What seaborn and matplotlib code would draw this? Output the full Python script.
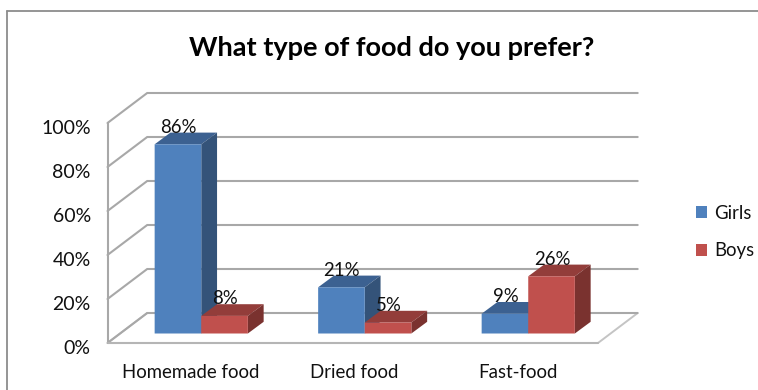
import matplotlib
matplotlib.use("Agg")
import matplotlib.pyplot as plt
import seaborn as sns
import pandas as pd
from matplotlib.lines import Line2D
from matplotlib.patches import Polygon, Rectangle
from matplotlib.ticker import FixedLocator, FuncFormatter
from matplotlib.transforms import ScaledTranslation

categories = ["Homemade food", "Dried food", "Fast-food"]
girls = [86, 21, 9]
boys = [8, 5, 26]
series_names = ["Girls", "Boys"]
palette = {"Girls": "#4F81BD", "Boys": "#C0504D"}
top_shade = {"Girls": "#3C6191", "Boys": "#933D3A"}
side_shade = {"Girls": "#345379", "Boys": "#7A322F"}
y_ticks = [0, 20, 40, 60, 80, 100]
title = "What type of food do you prefer?"

df = pd.DataFrame({
    "category": categories * 2,
    "series": [series_names[0]] * 3 + [series_names[1]] * 3,
    "value": girls + boys,
})

W, H = 758, 390
sns.set_theme(style="white")
plt.rcParams["font.family"] = ["Lato", "DejaVu Sans"]
fig = plt.figure(figsize=(W / 100, H / 100), dpi=100, facecolor="white")

L, R, T, B = 107.5, 598.0, 123.0, 343.0
ax = fig.add_axes([L / W, 1 - B / H, (R - L) / W, (B - T) / H])
ax.patch.set_alpha(0)
sns.barplot(data=df, x="category", y="value", hue="series", palette=palette,
            hue_order=series_names, order=categories, width=0.57, gap=0,
            saturation=1, legend=False, ax=ax, zorder=5, linewidth=0)
ax.set_xlim(-0.5, 2.5)
ax.set_ylim(0, 100)
for s in ax.spines.values():
    s.set_visible(False)

px = 3 / (R - L)          # data units per pixel, x
py = 100 / (B - T)        # data units per pixel, y

# wall and floor depth
wdx, wdy = 39.7 * px, 30 * py
grid = "#A8A8A8"
ax.add_patch(Polygon([(-0.5, 0), (-0.5 + wdx, wdy), (2.5 + wdx, wdy), (2.5, 0)],
                     closed=True, fc="white", ec="#C4C4C4", lw=1.4, zorder=1, clip_on=False))
for t in y_ticks:
    ax.plot([-0.5, -0.5 + wdx, 2.5 + wdx], [t, t + wdy, t + wdy], color=grid, lw=1.5,
            zorder=2 if t else 1.5, clip_on=False, solid_joinstyle="miter")
ax.plot([-0.5, -0.5], [0, 100], color=grid, lw=1.5, zorder=2, clip_on=False)
ax.plot([-0.5, 2.5], [0, 0], color="#B5B5B5", lw=1.5, zorder=2, clip_on=False)

# lift the bars onto the floor and add their 3-D faces
ox, oy = 12 * px, 9.5 * py
bdx, bdy = 15.8 * px, 11.7 * py
for p in ax.patches[:]:
    if not isinstance(p, Rectangle) or p.get_height() == 0:
        continue
    name = series_names[0] if p.get_facecolor()[0] < 0.5 else series_names[1]
    p.set_x(p.get_x() + ox)
    p.set_y(oy)
    p.set_clip_on(False)
    p.set_snap(False)
    x0, x1 = p.get_x(), p.get_x() + p.get_width()
    y0, y1 = oy, oy + p.get_height()
    z = 4 if name == "Girls" else 6
    p.set_zorder(z + 0.2)
    ax.add_patch(Polygon([(x0, y1), (x0 + bdx, y1 + bdy), (x1 + bdx, y1 + bdy), (x1, y1)],
                         fc=top_shade[name], ec="none", zorder=z, clip_on=False))
    ax.add_patch(Polygon([(x1, y0), (x1 + bdx, y0 + bdy), (x1 + bdx, y1 + bdy), (x1, y1)],
                         fc=side_shade[name], ec="none", zorder=z, clip_on=False))
    ax.text((x0 + x1) / 2 + 0.5 * px, y1 + 8.5 * py, f"{p.get_height():.0f}%", ha="center", va="bottom",
            fontsize=13.4, color="#111111", zorder=10, clip_on=False)

ax.set_xlabel("")
ax.set_ylabel("")
ax.yaxis.set_major_locator(FixedLocator(y_ticks))
ax.yaxis.set_major_formatter(FuncFormatter(lambda v, _: f"{v:.0f}%"))
ax.tick_params(axis="y", length=0, pad=12, labelsize=14, labelcolor="#111111")
ax.tick_params(axis="x", length=0, pad=15, labelsize=13.4, labelcolor="#111111")
shift_y = ScaledTranslation(0, -4 / 100, fig.dpi_scale_trans)
for lab in ax.get_yticklabels():
    lab.set_transform(lab.get_transform() + shift_y)
shift_x = ScaledTranslation(1.3 / 100, 0, fig.dpi_scale_trans)
for lab in ax.get_xticklabels():
    lab.set_transform(lab.get_transform() + shift_x)

fig.text(392 / W, 1 - 48 / H, title, ha="center", va="center", fontsize=19.5,
         fontweight="bold", color="black")

# chart frame: only top and left edges are visible in the crop
frame = "#8C8C8C"
fig.add_artist(Line2D([7 / W, 7 / W], [0, 1 - 11 / H], color=frame, lw=1.3, transform=fig.transFigure))
fig.add_artist(Line2D([6.5 / W, 1], [1 - 11 / H, 1 - 11 / H], color=frame, lw=1.3, transform=fig.transFigure))

# legend
handles = [Rectangle((0, 0), 1, 1, fc=palette[s], ec="none") for s in series_names]
fig.legend(handles, series_names, loc="center left", bbox_to_anchor=(696 / W, 1 - 232 / H),
           frameon=False, fontsize=13.4, handlelength=0.6, handleheight=0.6, handletextpad=0.4,
           labelspacing=1.1, borderpad=0, borderaxespad=0, labelcolor="#111111")

fig.savefig("out.png", dpi=100, facecolor="white")
